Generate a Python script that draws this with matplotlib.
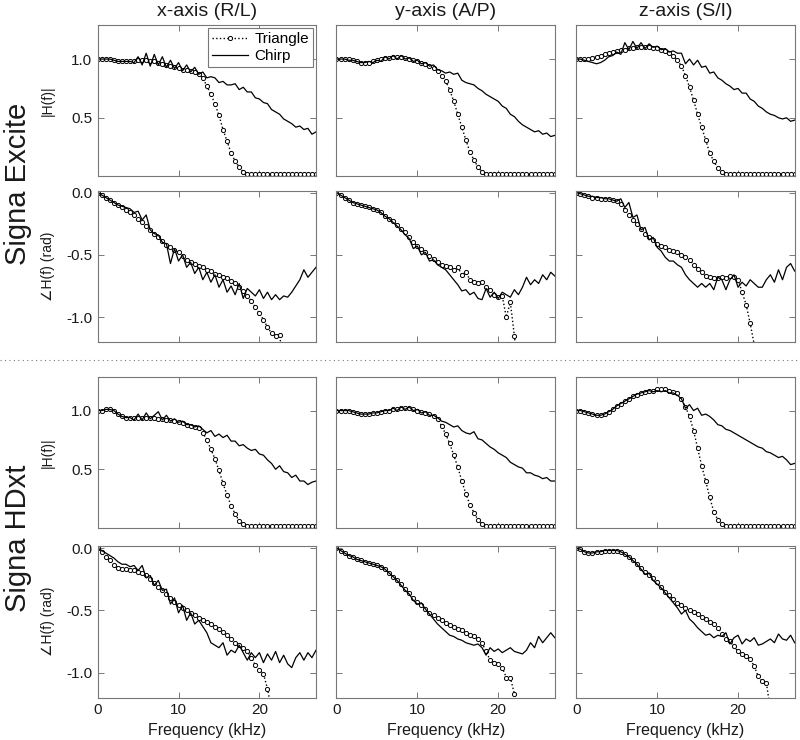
import numpy as np
import matplotlib.pyplot as plt
from matplotlib.lines import Line2D

plt.rcParams['font.family'] = ['Liberation Sans', 'DejaVu Sans']
plt.rcParams['axes.unicode_minus'] = False

# frequency grid, kHz (0 .. 27 in 0.5 steps)
freq = np.arange(55) * 0.5

col_titles = ['x-axis (R/L)', 'y-axis (A/P)', 'z-axis (S/I)']
scanners = ['Signa Excite', 'Signa HDxt']
mag_ticks = [0.5, 1.0]
mag_ticklabels = ['0.5', '1.0']
phase_ticks = [-1.0, -0.5, 0.0]
phase_ticklabels = ['-1.0', '-0.5', '0.0']
freq_ticks = [0, 10, 20]

# ---- Signa Excite ----
excite_x_mag_tri = [1.00, 1.00, 1.00, 1.00, 0.99, 0.98, 0.98, 0.98, 0.98, 0.98,
                    0.99, 0.99, 0.99, 0.98, 0.98, 0.97, 0.96, 0.95, 0.94, 0.93,
                    0.92, 0.91, 0.91, 0.90, 0.89, 0.87, 0.84, 0.77, 0.70, 0.62,
                    0.52, 0.40, 0.30, 0.20, 0.13, 0.08, 0.04, 0.02, 0.02, 0.02,
                    0.02, 0.02, 0.02, 0.02, 0.02, 0.02, 0.02, 0.02, 0.02, 0.02,
                    0.02, 0.02, 0.02, 0.02, 0.02]
excite_x_mag_chirp = [1.00, 1.00, 1.00, 1.00, 0.99, 0.98, 0.98, 0.98, 0.98, 0.97,
                      1.02, 0.95, 1.05, 0.94, 1.04, 0.95, 1.02, 0.93, 0.99, 0.92,
                      0.97, 0.90, 0.95, 0.89, 0.93, 0.87, 0.89, 0.84, 0.85, 0.84,
                      0.80, 0.81, 0.78, 0.78, 0.79, 0.74, 0.76, 0.72, 0.72, 0.67,
                      0.66, 0.63, 0.62, 0.57, 0.55, 0.53, 0.49, 0.47, 0.45, 0.42,
                      0.43, 0.40, 0.41, 0.36, 0.38]
excite_x_ph_tri = [0.00, -0.02, -0.04, -0.06, -0.08, -0.10, -0.12, -0.14, -0.16, -0.18,
                   -0.21, -0.24, -0.27, -0.30, -0.33, -0.36, -0.39, -0.42, -0.44, -0.46,
                   -0.48, -0.51, -0.54, -0.56, -0.57, -0.59, -0.60, -0.62, -0.63, -0.65,
                   -0.66, -0.68, -0.69, -0.71, -0.73, -0.76, -0.79, -0.83, -0.87, -0.92,
                   -0.97, -1.02, -1.08, -1.13, -1.15, -1.14, -1.40]
excite_x_ph_chirp = [0.00, -0.02, -0.04, -0.06, -0.08, -0.10, -0.11, -0.12, -0.13, -0.16,
                     -0.15, -0.22, -0.18, -0.30, -0.33, -0.34, -0.40, -0.41, -0.57, -0.45,
                     -0.55, -0.50, -0.60, -0.56, -0.65, -0.60, -0.70, -0.64, -0.72, -0.66,
                     -0.76, -0.70, -0.80, -0.75, -0.82, -0.73, -0.85, -0.77, -0.80, -0.83,
                     -0.78, -0.85, -0.80, -0.86, -0.82, -0.86, -0.83, -0.84, -0.80, -0.75,
                     -0.70, -0.62, -0.68, -0.64, -0.60]

excite_y_mag_tri = [1.00, 1.00, 1.00, 1.00, 0.99, 0.98, 0.97, 0.97, 0.97, 0.98,
                    0.99, 1.00, 1.01, 1.01, 1.02, 1.02, 1.02, 1.01, 1.00, 0.99,
                    0.98, 0.97, 0.96, 0.94, 0.92, 0.90, 0.86, 0.81, 0.74, 0.64,
                    0.53, 0.42, 0.31, 0.21, 0.14, 0.08, 0.04, 0.02, 0.02, 0.02,
                    0.02, 0.02, 0.02, 0.02, 0.02, 0.02, 0.02, 0.02, 0.02, 0.02,
                    0.02, 0.02, 0.02, 0.02, 0.02]
excite_y_mag_chirp = [1.00, 1.00, 1.00, 0.99, 0.99, 0.98, 0.97, 0.97, 0.98, 0.97,
                      0.99, 0.98, 1.02, 1.00, 1.03, 1.00, 1.03, 1.00, 1.01, 0.98,
                      0.99, 0.96, 0.97, 0.94, 0.95, 0.91, 0.90, 0.88, 0.89, 0.87,
                      0.88, 0.82, 0.80, 0.79, 0.78, 0.75, 0.73, 0.70, 0.68, 0.66,
                      0.64, 0.60, 0.58, 0.53, 0.51, 0.47, 0.44, 0.42, 0.40, 0.38,
                      0.39, 0.36, 0.37, 0.34, 0.35]
excite_y_ph_tri = [0.00, -0.02, -0.04, -0.06, -0.08, -0.09, -0.10, -0.11, -0.12, -0.13,
                   -0.14, -0.16, -0.19, -0.21, -0.23, -0.26, -0.29, -0.32, -0.36, -0.40,
                   -0.43, -0.45, -0.48, -0.51, -0.53, -0.56, -0.58, -0.59, -0.60, -0.62,
                   -0.60, -0.66, -0.64, -0.70, -0.72, -0.73, -0.72, -0.76, -0.78, -0.82,
                   -0.84, -0.83, -1.00, -0.88, -1.15, -1.45]
excite_y_ph_chirp = [0.00, -0.02, -0.04, -0.06, -0.08, -0.09, -0.10, -0.11, -0.12, -0.13,
                     -0.14, -0.16, -0.19, -0.21, -0.24, -0.27, -0.30, -0.34, -0.37, -0.45,
                     -0.43, -0.50, -0.48, -0.55, -0.54, -0.58, -0.60, -0.62, -0.66, -0.70,
                     -0.74, -0.79, -0.78, -0.82, -0.80, -0.85, -0.86, -0.77, -0.84, -0.80,
                     -0.85, -0.80, -0.82, -0.84, -0.78, -0.82, -0.76, -0.68, -0.74, -0.70,
                     -0.73, -0.66, -0.70, -0.64, -0.67]

excite_z_mag_tri = [1.00, 1.00, 1.00, 1.00, 1.01, 1.02, 1.03, 1.04, 1.05, 1.06,
                    1.07, 1.08, 1.08, 1.09, 1.09, 1.10, 1.10, 1.10, 1.10, 1.09,
                    1.09, 1.08, 1.07, 1.05, 1.03, 0.99, 0.94, 0.86, 0.76, 0.65,
                    0.53, 0.42, 0.31, 0.20, 0.13, 0.07, 0.04, 0.02, 0.02, 0.02,
                    0.02, 0.02, 0.02, 0.02, 0.02, 0.02, 0.02, 0.02, 0.02, 0.02,
                    0.02, 0.02, 0.02, 0.02, 0.02]
excite_z_mag_chirp = [1.00, 1.00, 0.99, 0.98, 0.97, 0.96, 0.97, 0.99, 1.02, 1.03,
                      1.06, 1.04, 1.14, 1.08, 1.15, 1.09, 1.14, 1.09, 1.13, 1.10,
                      1.11, 1.08, 1.09, 1.06, 1.07, 1.05, 1.05, 0.96, 1.00, 0.95,
                      0.99, 0.93, 0.94, 0.88, 0.89, 0.84, 0.82, 0.79, 0.77, 0.74,
                      0.75, 0.71, 0.71, 0.66, 0.64, 0.60, 0.58, 0.55, 0.53, 0.52,
                      0.50, 0.49, 0.50, 0.47, 0.48]
excite_z_ph_tri = [0.00, -0.01, -0.02, -0.03, -0.04, -0.04, -0.05, -0.05, -0.05, -0.06,
                   -0.07, -0.09, -0.14, -0.18, -0.22, -0.25, -0.29, -0.33, -0.36, -0.38,
                   -0.41, -0.43, -0.44, -0.46, -0.47, -0.48, -0.50, -0.52, -0.54, -0.58,
                   -0.61, -0.64, -0.67, -0.68, -0.69, -0.69, -0.68, -0.69, -0.67, -0.68,
                   -0.70, -0.80, -0.90, -1.05, -1.22, -1.50]
excite_z_ph_chirp = [0.00, -0.01, -0.02, -0.03, -0.03, -0.04, -0.04, -0.05, -0.05, -0.06,
                     -0.07, -0.05, -0.12, -0.08, -0.20, -0.18, -0.30, -0.28, -0.38, -0.36,
                     -0.44, -0.47, -0.52, -0.55, -0.55, -0.58, -0.60, -0.66, -0.70, -0.73,
                     -0.76, -0.73, -0.76, -0.73, -0.78, -0.68, -0.70, -0.78, -0.70, -0.66,
                     -0.76, -0.72, -0.75, -0.70, -0.73, -0.76, -0.76, -0.70, -0.66, -0.72,
                     -0.62, -0.70, -0.60, -0.57, -0.63]

# ---- Signa HDxt ----
hdxt_x_mag_tri = [1.00, 1.00, 1.01, 1.01, 1.00, 0.97, 0.95, 0.94, 0.94, 0.94,
                  0.94, 0.94, 0.94, 0.94, 0.94, 0.93, 0.93, 0.92, 0.92, 0.91,
                  0.90, 0.89, 0.88, 0.87, 0.86, 0.85, 0.81, 0.75, 0.67, 0.59,
                  0.49, 0.38, 0.28, 0.19, 0.12, 0.06, 0.03, 0.02, 0.02, 0.02,
                  0.02, 0.02, 0.02, 0.02, 0.02, 0.02, 0.02, 0.02, 0.02, 0.02,
                  0.02, 0.02, 0.02, 0.02, 0.02]
hdxt_x_mag_chirp = [1.00, 1.00, 1.01, 1.01, 1.00, 0.97, 0.95, 0.94, 0.94, 0.92,
                    0.97, 0.92, 0.98, 0.93, 0.96, 0.99, 0.92, 0.96, 0.91, 0.93,
                    0.90, 0.91, 0.88, 0.88, 0.86, 0.87, 0.84, 0.81, 0.83, 0.78,
                    0.80, 0.77, 0.79, 0.74, 0.74, 0.70, 0.71, 0.68, 0.66, 0.67,
                    0.63, 0.62, 0.58, 0.55, 0.50, 0.53, 0.48, 0.47, 0.43, 0.45,
                    0.40, 0.40, 0.37, 0.39, 0.40]
hdxt_x_ph_tri = [0.00, -0.03, -0.07, -0.10, -0.14, -0.16, -0.17, -0.17, -0.18, -0.18,
                 -0.19, -0.20, -0.22, -0.25, -0.28, -0.31, -0.34, -0.37, -0.40, -0.43,
                 -0.46, -0.48, -0.50, -0.52, -0.54, -0.56, -0.58, -0.59, -0.61, -0.63,
                 -0.65, -0.67, -0.70, -0.73, -0.76, -0.78, -0.80, -0.83, -0.88, -0.94,
                 -0.98, -1.01, -1.13, -1.30]
hdxt_x_ph_chirp = [0.00, -0.02, -0.04, -0.06, -0.08, -0.11, -0.13, -0.13, -0.15, -0.14,
                   -0.18, -0.14, -0.24, -0.22, -0.30, -0.26, -0.34, -0.33, -0.45, -0.40,
                   -0.52, -0.46, -0.58, -0.52, -0.61, -0.58, -0.63, -0.68, -0.76, -0.78,
                   -0.80, -0.76, -0.86, -0.82, -0.84, -0.78, -0.84, -0.90, -0.84, -0.88,
                   -0.84, -0.92, -0.85, -0.90, -0.83, -0.92, -0.86, -0.93, -0.96, -0.88,
                   -0.84, -0.90, -0.84, -0.88, -0.82]

hdxt_y_mag_tri = [1.00, 1.00, 1.00, 1.00, 0.99, 0.98, 0.97, 0.97, 0.97, 0.98,
                  0.98, 0.99, 1.00, 1.00, 1.01, 1.01, 1.02, 1.02, 1.02, 1.01,
                  1.00, 0.99, 0.98, 0.97, 0.95, 0.93, 0.87, 0.80, 0.72, 0.62,
                  0.52, 0.40, 0.29, 0.20, 0.13, 0.07, 0.03, 0.02, 0.02, 0.02,
                  0.02, 0.02, 0.02, 0.02, 0.02, 0.02, 0.02, 0.02, 0.02, 0.02,
                  0.02, 0.02, 0.02, 0.02, 0.02]
hdxt_y_mag_chirp = [1.00, 1.00, 1.00, 1.00, 0.99, 0.98, 0.97, 0.97, 0.97, 0.98,
                    0.98, 0.99, 1.00, 1.00, 1.02, 1.00, 1.03, 1.01, 1.03, 1.00,
                    1.01, 0.98, 0.99, 0.96, 0.96, 0.94, 0.91, 0.90, 0.88, 0.86,
                    0.87, 0.83, 0.81, 0.80, 0.82, 0.76, 0.75, 0.72, 0.69, 0.67,
                    0.64, 0.62, 0.60, 0.56, 0.54, 0.52, 0.51, 0.47, 0.47, 0.45,
                    0.44, 0.42, 0.43, 0.40, 0.40]
hdxt_y_ph_tri = [0.00, -0.02, -0.04, -0.06, -0.07, -0.09, -0.10, -0.11, -0.12, -0.13,
                 -0.14, -0.15, -0.17, -0.20, -0.23, -0.26, -0.29, -0.33, -0.36, -0.40,
                 -0.43, -0.46, -0.49, -0.52, -0.54, -0.56, -0.58, -0.60, -0.62, -0.63,
                 -0.65, -0.66, -0.68, -0.70, -0.71, -0.73, -0.76, -0.83, -0.90, -0.92,
                 -0.93, -0.96, -1.04, -1.04, -1.17, -1.40]
hdxt_y_ph_chirp = [0.00, -0.02, -0.04, -0.06, -0.07, -0.09, -0.10, -0.11, -0.12, -0.13,
                   -0.14, -0.15, -0.17, -0.20, -0.23, -0.26, -0.30, -0.34, -0.37, -0.42,
                   -0.45, -0.44, -0.49, -0.53, -0.57, -0.61, -0.64, -0.67, -0.70, -0.71,
                   -0.73, -0.74, -0.76, -0.77, -0.78, -0.77, -0.80, -0.86, -0.80, -0.83,
                   -0.81, -0.84, -0.82, -0.80, -0.83, -0.84, -0.85, -0.82, -0.76, -0.80,
                   -0.71, -0.76, -0.72, -0.68, -0.72]

hdxt_z_mag_tri = [1.00, 1.00, 0.99, 0.98, 0.97, 0.96, 0.96, 0.97, 0.99, 1.01,
                  1.04, 1.06, 1.08, 1.10, 1.12, 1.13, 1.15, 1.16, 1.17, 1.17,
                  1.18, 1.18, 1.18, 1.17, 1.16, 1.15, 1.10, 1.03, 0.95, 0.83,
                  0.68, 0.53, 0.40, 0.26, 0.14, 0.07, 0.035, 0.02, 0.02, 0.02,
                  0.02, 0.02, 0.02, 0.02, 0.02, 0.02, 0.02, 0.02, 0.02, 0.02,
                  0.02, 0.02, 0.02, 0.02, 0.02]
hdxt_z_mag_chirp = [1.00, 1.00, 0.99, 0.98, 0.97, 0.96, 0.96, 0.97, 0.99, 1.01,
                    1.04, 1.06, 1.08, 1.10, 1.12, 1.14, 1.15, 1.16, 1.17, 1.16,
                    1.17, 1.16, 1.17, 1.15, 1.15, 1.13, 1.10, 1.02, 1.05, 1.00,
                    1.02, 0.96, 0.97, 0.95, 0.92, 0.88, 0.87, 0.84, 0.83, 0.81,
                    0.79, 0.77, 0.75, 0.73, 0.71, 0.69, 0.68, 0.65, 0.64, 0.62,
                    0.60, 0.61, 0.58, 0.54, 0.55]
hdxt_z_ph_tri = [0.00, -0.01, -0.03, -0.04, -0.04, -0.03, -0.03, -0.02, -0.02, -0.02,
                 -0.02, -0.03, -0.05, -0.07, -0.10, -0.13, -0.16, -0.19, -0.22, -0.24,
                 -0.27, -0.31, -0.35, -0.38, -0.41, -0.44, -0.46, -0.48, -0.50, -0.51,
                 -0.53, -0.55, -0.57, -0.59, -0.61, -0.64, -0.69, -0.73, -0.75, -0.79,
                 -0.83, -0.85, -0.87, -0.89, -0.95, -1.03, -1.07, -1.08, -1.30]
hdxt_z_ph_chirp = [0.00, -0.01, -0.03, -0.04, -0.04, -0.03, -0.03, -0.02, -0.02, -0.02,
                   -0.02, -0.03, -0.05, -0.07, -0.10, -0.13, -0.17, -0.21, -0.20, -0.26,
                   -0.29, -0.32, -0.36, -0.40, -0.44, -0.48, -0.53, -0.50, -0.57, -0.60,
                   -0.64, -0.67, -0.70, -0.69, -0.72, -0.70, -0.71, -0.68, -0.77, -0.72,
                   -0.70, -0.77, -0.73, -0.75, -0.72, -0.78, -0.77, -0.75, -0.73, -0.76,
                   -0.69, -0.73, -0.74, -0.70, -0.76]

rows = [
    [(excite_x_mag_tri, excite_x_mag_chirp), (excite_y_mag_tri, excite_y_mag_chirp),
     (excite_z_mag_tri, excite_z_mag_chirp)],
    [(excite_x_ph_tri, excite_x_ph_chirp), (excite_y_ph_tri, excite_y_ph_chirp),
     (excite_z_ph_tri, excite_z_ph_chirp)],
    [(hdxt_x_mag_tri, hdxt_x_mag_chirp), (hdxt_y_mag_tri, hdxt_y_mag_chirp),
     (hdxt_z_mag_tri, hdxt_z_mag_chirp)],
    [(hdxt_x_ph_tri, hdxt_x_ph_chirp), (hdxt_y_ph_tri, hdxt_y_ph_chirp),
     (hdxt_z_ph_tri, hdxt_z_ph_chirp)],
]

frame_col = '#777777'
text_col = '#1a1a1a'

fig = plt.figure(figsize=(8, 7.4), dpi=100)
lefts = [0.1221, 0.4206, 0.7204]
width = 0.2729
bottoms = [0.7615, 0.5378, 0.2865, 0.0574]
height = 0.2047

for r in range(4):
    is_mag = r % 2 == 0
    for c in range(3):
        ax = fig.add_axes([lefts[c], bottoms[r], width, height])
        tri, chirp = rows[r][c]
        ax.plot(freq[:len(tri)], tri, ls=':', color='k', lw=1.0, marker='o',
                ms=3.0, mfc='white', mec='k', mew=0.7, label='Triangle')
        ax.plot(freq[:len(chirp)], chirp, ls='-', color='k', lw=0.9, label='Chirp')
        ax.set_xlim(0, 27)
        ax.set_xticks(freq_ticks)
        if is_mag:
            ax.set_ylim(0, 1.29)
            ax.set_yticks(mag_ticks)
            ax.set_yticklabels(mag_ticklabels if c == 0 else [])
        else:
            ax.set_ylim(-1.2, 0.016)
            ax.set_yticks(phase_ticks)
            ax.set_yticklabels(phase_ticklabels if c == 0 else [])
        if r == 3:
            ax.set_xticklabels([str(t) for t in freq_ticks])
            ax.set_xlabel('Frequency (kHz)', fontsize=11.5, color=text_col, labelpad=4)
        else:
            ax.set_xticklabels([])
        ax.tick_params(direction='in', top=True, right=True, length=4, width=0.7,
                       color=frame_col, labelsize=11, labelcolor=text_col, pad=4)
        for sp in ax.spines.values():
            sp.set_color(frame_col)
            sp.set_linewidth(0.8)
        if c == 0:
            ax.set_ylabel('|H(f)|' if is_mag else '\u2220H(f) (rad)', fontsize=10,
                          color=text_col)
            ax.yaxis.set_label_coords(-0.196, 0.5)
        if r == 0 and c == 0:
            leg = ax.legend(loc='upper right', fontsize=11, numpoints=1, fancybox=False,
                            framealpha=1, edgecolor=frame_col, borderpad=0.25,
                            handlelength=2.4, handletextpad=0.4, labelspacing=0.2,
                            borderaxespad=0.2)
            leg.get_frame().set_linewidth(0.8)

for c in range(3):
    fig.text(lefts[c] + width / 2, 0.984, col_titles[c], ha='center', va='center',
             fontsize=14, color=text_col)

fig.text(0.022, 0.752, scanners[0], rotation=90, ha='center', va='center',
         fontsize=21, color=text_col)
fig.text(0.022, 0.272, scanners[1], rotation=90, ha='center', va='center',
         fontsize=21, color=text_col)

fig.add_artist(Line2D([0, 1], [0.514, 0.514], transform=fig.transFigure,
                      ls=(0, (1, 3)), color='#777777', lw=0.8))

fig.savefig('out.png', dpi=100)
